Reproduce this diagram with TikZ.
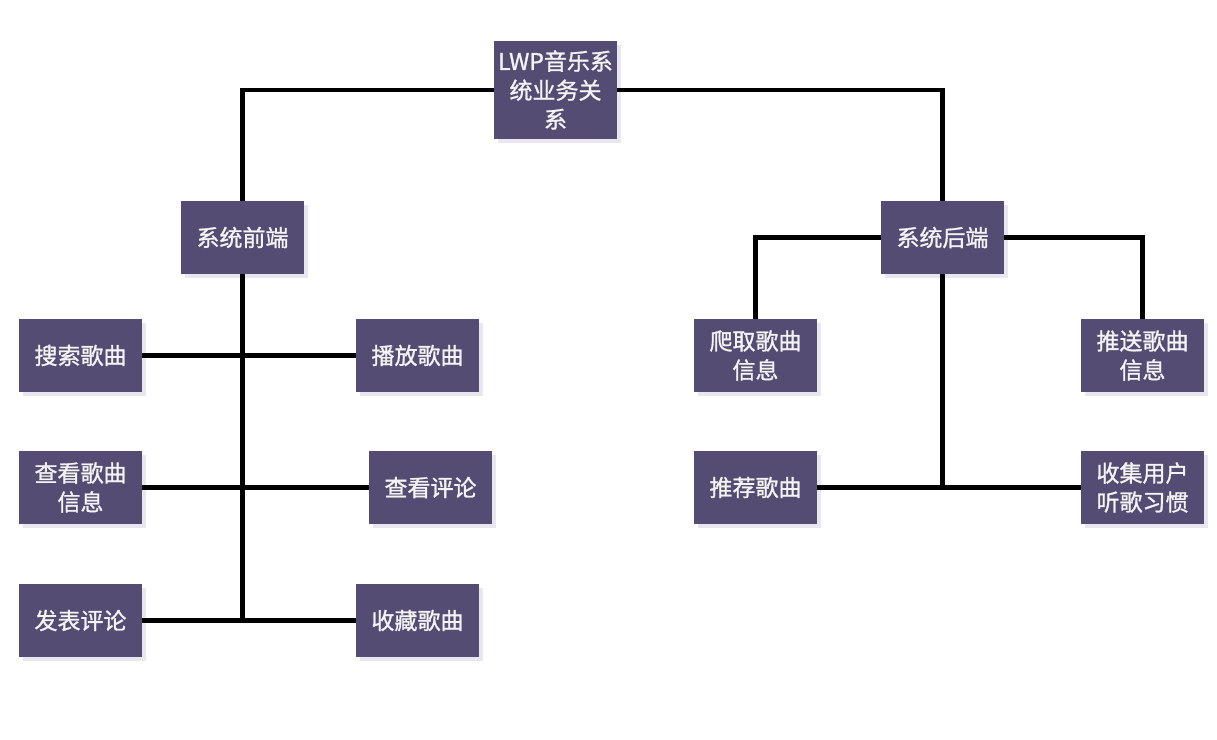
\documentclass[tikz,border=0pt]{standalone}
\usepackage{fontspec}
\newfontfamily\cjk[FakeBold=1.2]{Noto Sans CJK SC}
\usetikzlibrary{shadows}
\definecolor{boxc}{HTML}{544C73}
\definecolor{shadc}{HTML}{E8E6EE}
\definecolor{txtc}{HTML}{F4F4F4}
\begin{document}
\begin{tikzpicture}[x=1pt,y=-1pt,
  box/.style={draw=none,fill=boxc,text=txtc,minimum width=123pt,minimum height=73pt,inner sep=0pt,align=center,
    font=\cjk\fontsize{23}{29}\selectfont,
    drop shadow={shadow xshift=4pt,shadow yshift=-4pt,fill=shadc,opacity=1}},
  link/.style={line width=4.5pt,line join=miter,black}]
\useasboundingbox (0,0) rectangle (1217,739);
\node[box,minimum height=98pt] (top) at (555.5,90) {LWP音乐系\\统业务关\\系};
\node[box] (fe) at (242.5,237.5) {系统前端};
\node[box] (be) at (942.5,237.5) {系统后端};
\node[box] (s1) at (80.5,355.5) {搜索歌曲};
\node[box] (s2) at (417.5,355.5) {播放歌曲};
\node[box] (s3) at (80.5,487.5) {查看歌曲\\信息};
\node[box] (s4) at (430.5,487.5) {查看评论};
\node[box] (s5) at (80.5,620.5) {发表评论};
\node[box] (s6) at (417.5,620.5) {收藏歌曲};
\node[box] (c1) at (755.5,355.5) {爬取歌曲\\信息};
\node[box] (c2) at (1142.5,355.5) {推送歌曲\\信息};
\node[box] (c3) at (755.5,487.5) {推荐歌曲};
\node[box] (c4) at (1142.5,487.5) {收集用户\\听歌习惯};
\draw[link] (top.west) -| (fe.north);
\draw[link] (top.east) -| (be.north);
\draw[link] (fe.south) -- (fe.south |- s5);
\draw[link] (s1.east) -- (s2.west);
\draw[link] (s3.east) -- (s4.west);
\draw[link] (s5.east) -- (s6.west);
\draw[link] (be.west) -| (c1.north);
\draw[link] (be.east) -| (c2.north);
\draw[link] (be.south) -- (be.south |- c3);
\draw[link] (c3.east) -- (c4.west);
\end{tikzpicture}
\end{document}
